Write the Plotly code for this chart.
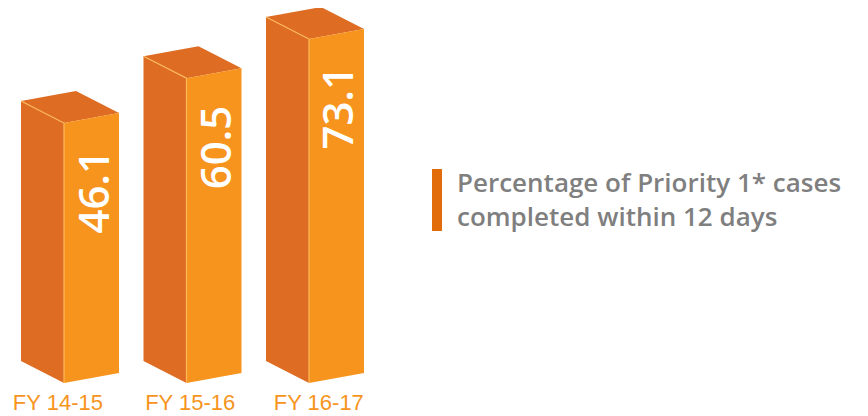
import plotly.graph_objects as go

# data
years = ["FY 14-15", "FY 15-16", "FY 16-17"]
pct = [46.1, 60.5, 73.1]
legend_text = "Percentage of Priority 1* cases<br>completed within 12 days"

# colours
front_col = "#F7941D"
side_col = "#DE6C23"
edge_col = "#FDBA5C"
label_col = "#F7941D"
grey = "#7F7F7F"

# page body adds an 8px margin, so the figure is 8px smaller than the window
W, H = 860, 408
plot_h = 375
px_x = 122.5          # pixels per category step
px_y = 3.11           # pixels per percentage point
base = -37.5          # bars start below zero, like the original pictogram
x_first = 56          # pixel of the first bar's front edge
fw = 55 / px_x        # front face width
sw = 43 / px_x        # side face width
fdy = 10 / px_y       # front face slant
sdy = 22 / px_y       # side face slant

fig = go.Figure()

for i, (yr, v) in enumerate(zip(years, pct)):
    x0 = i
    # side face
    fig.add_trace(go.Scatter(
        x=[x0, x0 - sw, x0 - sw, x0, x0],
        y=[base, base + sdy, v + sdy, v, base],
        fill="toself", fillcolor=side_col, mode="lines",
        line=dict(width=0, color=side_col), hoverinfo="skip", showlegend=False))
    # top face
    fig.add_trace(go.Scatter(
        x=[x0, x0 + fw, x0 + fw - sw, x0 - sw, x0],
        y=[v, v + fdy, v + fdy + sdy, v + sdy, v],
        fill="toself", fillcolor=side_col, mode="lines",
        line=dict(width=0, color=side_col), hoverinfo="skip", showlegend=False))
    # front face
    fig.add_trace(go.Scatter(
        x=[x0, x0 + fw, x0 + fw, x0, x0],
        y=[base, base + fdy, v + fdy, v, base],
        fill="toself", fillcolor=front_col, mode="lines",
        line=dict(width=0, color=front_col), hoverinfo="skip", showlegend=False))
    # light edges
    fig.add_trace(go.Scatter(
        x=[x0 - sw, x0, x0], y=[v + sdy, v, base],
        mode="lines", line=dict(width=1.2, color=edge_col),
        hoverinfo="skip", showlegend=False))
    # value label
    fig.add_annotation(
        x=x0 + fw / 2, y=v, text=f"{v:.1f}", textangle=-90,
        showarrow=False, xanchor="center", yanchor="top", yshift=-25,
        font=dict(family="Open Sans", size=42, color="white", weight=600))

# legend marker and text
fig.add_shape(type="rect", xref="paper", yref="paper",
              x0=424 / W, x1=434 / W,
              y0=(plot_h - 223) / plot_h, y1=(plot_h - 161) / plot_h,
              fillcolor="#E36C0A", line=dict(width=0))
fig.add_annotation(xref="paper", yref="paper", x=448 / W, y=(plot_h - 191.5) / plot_h,
                   xanchor="left", yanchor="middle", align="left", showarrow=False,
                   text=legend_text, borderpad=0,
                   font=dict(family="Open Sans", size=26, color=grey, weight=600))

fig.update_layout(
    width=W, height=H,
    margin=dict(l=0, r=0, t=0, b=H - plot_h),
    plot_bgcolor="white", paper_bgcolor="white",
    xaxis=dict(range=[-x_first / px_x, (W - x_first) / px_x], showgrid=False,
               zeroline=False, showline=False,
               tickvals=[-0.05, 1.03, 2.08], ticktext=years, ticklabelstandoff=4,
               tickfont=dict(family="Liberation Sans", size=22, color=label_col),
               fixedrange=True),
    yaxis=dict(range=[base, base + plot_h / px_y], visible=False, fixedrange=True),
)

fig.write_html("out.html")
